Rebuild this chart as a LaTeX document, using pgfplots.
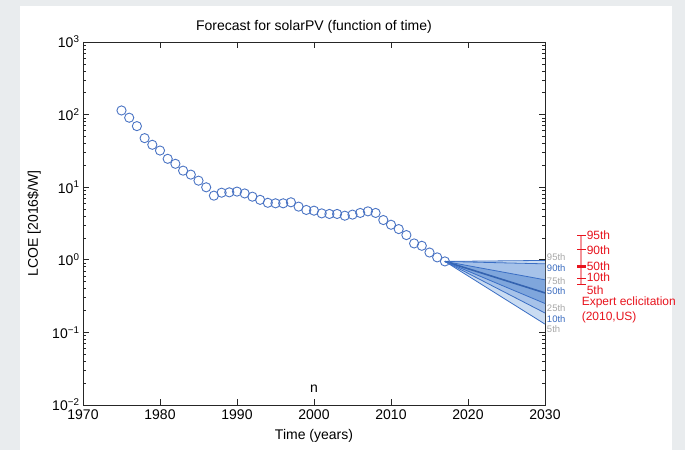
\documentclass[border=0pt]{standalone}
\usepackage{pgfplots}
\pgfplotsset{compat=1.18}
\usepackage{fontspec}
\setmainfont{Liberation Sans}
\definecolor{bg}{HTML}{E9ECEE}
\definecolor{pts}{HTML}{4A74C4}
\definecolor{fanline}{HTML}{3A6EC4}
\definecolor{fan1}{HTML}{CADCF2}
\definecolor{fan2}{HTML}{A6C2E9}
\definecolor{fan3}{HTML}{7FA6DC}
\definecolor{pgray}{HTML}{A8A8A8}
\definecolor{pblue}{HTML}{3A6CC0}
\definecolor{ered}{HTML}{E8141E}
\definecolor{elight}{HTML}{F4949A}
\begin{document}
\begin{tikzpicture}[x=1pt,y=1pt]
\useasboundingbox (0,0) rectangle (685,450);
\fill[bg] (0,0) rectangle (685,450);
\fill[white] (20,0) rectangle (672,444);
\begin{axis}[
  at={(83pt,45pt)}, anchor=south west,
  scale only axis, width=462pt, height=363pt,
  xmin=1970, xmax=2030,
  ymode=log, ymin=1e-2, ymax=1e3,
  xtick={1970,1980,...,2030},
  ytick={1e-2,1e-1,1,10,100,1000},
  yticklabels={10\textsuperscript{−2},10\textsuperscript{−1},10\textsuperscript{0},10\textsuperscript{1},10\textsuperscript{2},10\textsuperscript{3}},
  /pgf/number format/assume math mode=true,
  /pgf/number format/1000 sep={},
  tick align=inside,
  xtick pos=both, ytick pos=both,
  major tick length=6pt, minor tick length=3pt,
  axis line style={black!85, line width=0.8pt},
  every tick/.style={black!85, line width=0.7pt},
  tick label style={font=\fontsize{14}{16}\selectfont},
  xticklabel style={yshift=-1pt},
  title={Forecast for solarPV (function of time)},
  title style={at={(axis description cs:0.5,1)}, anchor=center, yshift=9pt, font=\fontsize{14}{16}\selectfont},
  xlabel={Time (years)},
  xlabel style={at={(axis description cs:0.5,0)}, anchor=center, yshift=-31pt, font=\fontsize{14}{16}\selectfont},
  ylabel={LCOE [2016\$/W]},
  ylabel style={at={(axis description cs:-0.106,0.5)}, anchor=center, font=\fontsize{14}{16}\selectfont},
  clip=false,
]
% fan bands
\addplot[draw=none, fill=fan1] coordinates {(2017,0.95) (2030,0.98) (2030,0.13) (2017,0.95)};
\addplot[draw=none, fill=fan2] coordinates {(2017,0.95) (2030,0.88) (2030,0.185) (2017,0.95)};
\addplot[draw=none, fill=fan3] coordinates {(2017,0.95) (2030,0.53) (2030,0.25) (2017,0.95)};
% fan lines
\addplot[fanline, line width=0.8pt] coordinates {(2017,0.95) (2030,0.98)};
\addplot[fanline, line width=0.8pt] coordinates {(2017,0.95) (2030,0.88)};
\addplot[fanline, line width=0.8pt] coordinates {(2017,0.95) (2030,0.53)};
\addplot[fanline!90!black, line width=1.6pt] coordinates {(2017,0.95) (2030,0.35)};
\addplot[fanline, line width=0.8pt] coordinates {(2017,0.95) (2030,0.25)};
\addplot[fanline, line width=0.8pt] coordinates {(2017,0.95) (2030,0.185)};
\addplot[fanline, line width=0.8pt] coordinates {(2017,0.95) (2030,0.13)};
% data
\addplot[only marks, mark=o, mark size=4.6pt, pts, mark options={line width=0.9pt}] coordinates {
(1975,114) (1976,90.6) (1977,69.4) (1978,47.4) (1979,38.4) (1980,32.0)
(1981,24.6) (1982,21.0) (1983,16.9) (1984,14.9) (1985,12.3) (1986,9.97)
(1987,7.65) (1988,8.4) (1989,8.5) (1990,8.7) (1991,8.2) (1992,7.4)
(1993,6.7) (1994,6.1) (1995,6.0) (1996,6.0) (1997,6.2) (1998,5.4)
(1999,4.86) (2000,4.75) (2001,4.36) (2002,4.28) (2003,4.28) (2004,4.05)
(2005,4.19) (2006,4.42) (2007,4.65) (2008,4.42) (2009,3.53) (2010,3.04)
(2011,2.65) (2012,2.19) (2013,1.68) (2014,1.56) (2015,1.26) (2016,1.08)
(2017,0.95)};
% percentile labels
\node[anchor=west, text=pgray, font=\fontsize{9.5}{10}\selectfont, inner sep=1pt] at (axis cs:2030.1,1.08) {95th};
\node[anchor=west, text=pblue, font=\fontsize{9.5}{10}\selectfont, inner sep=1pt] at (axis cs:2030.1,0.76) {90th};
\node[anchor=west, text=pgray, font=\fontsize{9.5}{10}\selectfont, inner sep=1pt] at (axis cs:2030.1,0.51) {75th};
\node[anchor=west, text=pblue, font=\fontsize{9.5}{10}\selectfont, inner sep=1pt] at (axis cs:2030.1,0.373) {50th};
\node[anchor=west, text=pgray, font=\fontsize{9.5}{10}\selectfont, inner sep=1pt] at (axis cs:2030.1,0.217) {25th};
\node[anchor=west, text=pblue, font=\fontsize{9.5}{10}\selectfont, inner sep=1pt] at (axis cs:2030.1,0.153) {10th};
\node[anchor=west, text=pgray, font=\fontsize{9.5}{10}\selectfont, inner sep=1pt] at (axis cs:2030.1,0.112) {5th};
% expert elicitation
\addplot[elight, line width=1.6pt] coordinates {(2034.7,2.15) (2034.7,0.46)};
\addplot[only marks, ered, mark=-, mark size=4.5pt, mark options={line width=1pt}] coordinates {(2034.7,2.15) (2034.7,1.37) (2034.7,0.56) (2034.7,0.46)};
\addplot[only marks, ered, mark=-, mark size=4.5pt, mark options={line width=3pt}] coordinates {(2034.7,0.81)};
\node[anchor=west, text=ered, font=\fontsize{12}{13}\selectfont, inner sep=0pt] at (axis cs:2035.4,2.15) {95th};
\node[anchor=west, text=ered, font=\fontsize{12}{13}\selectfont, inner sep=0pt] at (axis cs:2035.4,1.37) {90th};
\node[anchor=west, text=ered, font=\fontsize{12}{13}\selectfont, inner sep=0pt] at (axis cs:2035.4,0.81) {50th};
\node[anchor=west, text=ered, font=\fontsize{12}{13}\selectfont, inner sep=0pt] at (axis cs:2035.4,0.58) {10th};
\node[anchor=west, text=ered, font=\fontsize{12}{13}\selectfont, inner sep=0pt] at (axis cs:2035.4,0.385) {5th};
\node[anchor=west, text=ered, font=\fontsize{12}{14}\selectfont, inner sep=0pt] at (axis cs:2034.75,0.257) {Expert eclicitation};
\node[anchor=west, text=ered, font=\fontsize{12}{14}\selectfont, inner sep=0pt] at (axis cs:2034.75,0.16) {(2010,US)};
\node[font=\fontsize{14}{16}\selectfont] at (axis cs:2000,0.017) {n};
\end{axis}
\end{tikzpicture}
\end{document}
